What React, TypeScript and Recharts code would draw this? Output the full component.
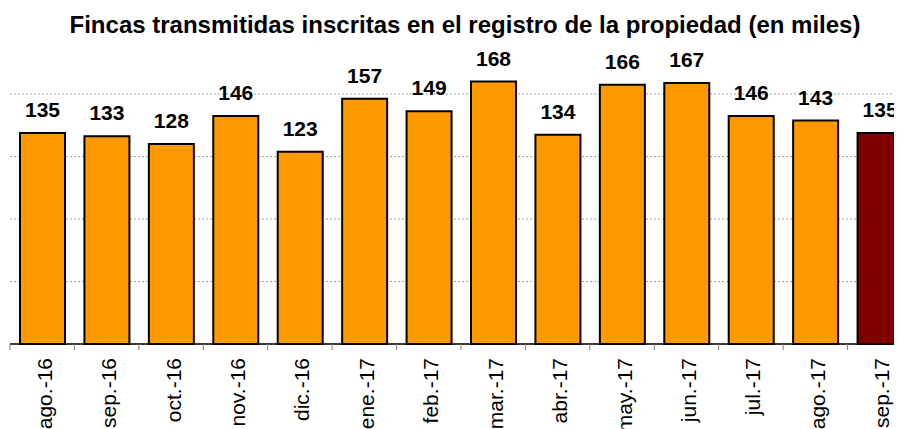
import { BarChart, Bar, XAxis, YAxis, CartesianGrid, Cell, LabelList } from "recharts";

const months = [
  "ago.-16", "sep.-16", "oct.-16", "nov.-16", "dic.-16", "ene.-17", "feb.-17",
  "mar.-17", "abr.-17", "may.-17", "jun.-17", "jul.-17", "ago.-17", "sep.-17",
];
const fincas = [135, 133, 128, 146, 123, 157, 149, 168, 134, 166, 167, 146, 143, 135];
const yMax = 200;
const yTicks = [0, 40, 80, 120, 160];

const FONT = "'Liberation Sans', Arial, sans-serif";
const ORANGE = "#FF9900";
const HIGHLIGHT = "#800000";

const data = months.map((m, i) => ({ month: m, value: fincas[i] }));

// tick mark sits on the category boundary, label rotated reading upwards
// eslint-disable-next-line @typescript-eslint/no-explicit-any
const MonthTick = ({ x, y, payload }: any) => {
  const half = payload?.offset ?? 32.2;
  return (
    <g transform={`translate(${x},${y})`}>
      <line x1={-half} x2={-half} y1={0} y2={6} stroke="#808080" strokeWidth={1} />
      <text
        transform="rotate(-90)"
        x={-14}
        y={0}
        dy={9.5}
        textAnchor="end"
        fontSize={21}
        fontFamily={FONT}
        fill="#000"
      >
        {payload.value}
      </text>
    </g>
  );
};

// gridlines only at the ticks the reference shows (no line at the top of the range)
// eslint-disable-next-line @typescript-eslint/no-explicit-any
const gridRows = ({ offset }: any) =>
  yTicks.map((t) => offset.top + offset.height * (1 - t / yMax));

export default function App() {
  return (
    <div style={{ position: "relative", width: 894, height: 421, overflow: "hidden" }}>
      <div
        style={{
          position: "absolute",
          top: 5,
          left: 457,
          transform: "translateX(-50%)",
          whiteSpace: "nowrap",
          fontFamily: FONT,
          fontWeight: "bold",
          fontSize: 24,
          lineHeight: "24px",
          color: "#000",
        }}
      >
        Fincas transmitidas inscritas en el registro de la propiedad (en miles)
      </div>
      <BarChart
        width={904}
        height={421}
        data={data}
        margin={{ top: 23.5, right: 0, left: 2, bottom: 0 }}
        barSize={45}
      >
        <CartesianGrid
          vertical={false}
          stroke="#a0a0a0"
          strokeDasharray="2 2"
          horizontalCoordinatesGenerator={gridRows}
        />
        <YAxis hide domain={[0, yMax]} ticks={yTicks} />
        <XAxis
          dataKey="month"
          height={85}
          interval={0}
          tickLine={false}
          tickSize={0}
          tickMargin={0}
          axisLine={{ stroke: "#000", strokeWidth: 1.5 }}
          tick={<MonthTick />}
        />
        <Bar dataKey="value" stroke="#000" strokeWidth={2} isAnimationActive={false}>
          {data.map((_, i) => (
            <Cell key={`cell-${i}`} fill={i === data.length - 1 ? HIGHLIGHT : ORANGE} />
          ))}
          <LabelList
            dataKey="value"
            position="top"
            offset={16}
            fontSize={21}
            fontWeight="bold"
            fontFamily={FONT}
            fill="#000"
          />
        </Bar>
      </BarChart>
    </div>
  );
}
